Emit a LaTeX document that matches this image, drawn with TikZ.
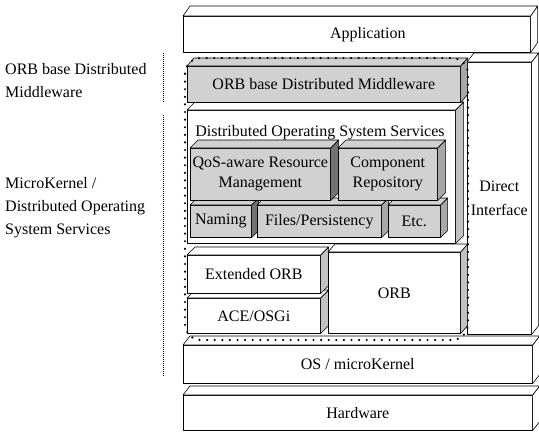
\documentclass[tikz,border=0pt]{standalone}
\usepackage{fontspec}
\setmainfont{Liberation Serif}
\usetikzlibrary{calc}

\definecolor{boxgray}{gray}{0.82}
\definecolor{sidegray}{gray}{0.66}
\definecolor{darkside}{gray}{0.45}
\definecolor{paleside}{gray}{0.76}

\newcommand\lab{\fontsize{16}{20}\selectfont}

% right face and top face of a box whose front face is node #1, depth (#2,#3)
\newcommand\boxsides[5]{%
  \filldraw[face, fill=#4] (#1.north east) -- ++(#2,#3)
     -- ($(#1.south east)+(#2,#3)$) -- (#1.south east) -- cycle;
  \filldraw[face, fill=#5] (#1.north west) -- ++(#2,#3)
     -- ($(#1.north east)+(#2,#3)$) -- (#1.north east) -- cycle;
}

\tikzset{
  face/.style={draw=black, line width=0.6pt, line join=round},
  front/.style={face, rectangle, inner sep=0pt, anchor=north west,
                align=center, font=\lab},
  whitebox/.style={front, fill=white},
  graybox/.style={front, fill=boxgray},
  groupline/.style={draw=black, line width=2.4pt, line cap=round,
                    dash pattern=on 0pt off 7.6pt, rounded corners=16pt},
  sepline/.style={draw=black, line width=0.8pt, dash pattern=on 0.8pt off 1.2pt},
  sidelabel/.style={anchor=west, align=left, inner sep=0pt,
                    font=\fontsize{16}{23}\selectfont}
}

\begin{document}
\begin{tikzpicture}[x=1pt, y=-1pt]
\useasboundingbox (0,0) rectangle (539,432);

% ---- base slabs ----
\node[whitebox, minimum width=349pt, minimum height=35pt] (hw) at (183,395) {Hardware};
\boxsides{hw}{7}{-9}{white}{white}
\node[whitebox, minimum width=349pt, minimum height=38pt] (os) at (183,345) {OS / microKernel};
\boxsides{os}{7}{-9}{white}{white}

% ---- direct interface column ----
\node[whitebox, minimum width=64pt, minimum height=272pt,
      font=\fontsize{16}{24}\selectfont] (direct) at (467,62) {Direct\\Interface};
\boxsides{direct}{7}{-9}{white}{white}

% ---- lower middleware layers ----
\node[whitebox, minimum width=133pt, minimum height=35pt] (ace) at (187,298) {ACE/OSGi};
\boxsides{ace}{8}{-8}{paleside}{white}
\node[whitebox, minimum width=133pt, minimum height=38pt] (eorb) at (187,255) {Extended ORB};
\boxsides{eorb}{8}{-8}{paleside}{white}
\node[whitebox, minimum width=132pt, minimum height=81pt] (orb) at (328,252) {ORB};
\boxsides{orb}{7}{-8}{paleside}{white}

% ---- distributed operating system services ----
\node[whitebox, minimum width=268pt, minimum height=133pt] (dos) at (187,110) {};
\boxsides{dos}{8}{-8}{paleside}{white}
\node[font=\lab, inner sep=0pt] (dostitle) at (320,133) {Distributed Operating System Services};

\node[graybox, minimum width=61pt, minimum height=32pt] (naming) at (190,205) {Naming};
\boxsides{naming}{7}{-7}{darkside}{boxgray}
\node[graybox, minimum width=124pt, minimum height=32pt] (files) at (257,205) {Files/Persistency};
\boxsides{files}{7}{-7}{sidegray}{boxgray}
\node[graybox, minimum width=52pt, minimum height=32pt] (etc) at (388,205) {Etc.};
\boxsides{etc}{7}{-7}{sidegray}{boxgray}

\node[graybox, minimum width=140pt, minimum height=52pt] (qos) at (190,148)
     {QoS-aware Resource\\Management};
\boxsides{qos}{8}{-8}{darkside}{boxgray}
\node[graybox, minimum width=99pt, minimum height=52pt] (comp) at (338,148)
     {Component\\Repository};
\boxsides{comp}{8}{-8}{sidegray}{boxgray}

% ---- ORB based middleware ----
\node[graybox, minimum width=273pt, minimum height=36pt] (mw) at (187,66)
     {ORB base Distributed Middleware};
\boxsides{mw}{7}{-8}{sidegray}{boxgray}

% ---- application ----
\node[whitebox, minimum width=347pt, minimum height=36pt] (app) at (183,16)
     {\hspace*{22pt}Application};
\boxsides{app}{7}{-10}{white}{white}

% ---- grouping of the distributed middleware ----
\draw[groupline] (185,58) rectangle (468,340);

% ---- layer names on the left ----
\node[sidelabel] (lblmw) at (5,81) {ORB base Distributed\\Middleware};
\node[sidelabel] (lblmk) at (5,208) {MicroKernel /\\Distributed Operating\\System Services};
\coordinate (s1a) at (163,53);
\coordinate (s1b) at (163,102);
\coordinate (s2a) at (163,115);
\coordinate (s2b) at (163,376);
\draw[sepline] (s1a) -- (s1b);
\draw[sepline] (s2a) -- (s2b);
\end{tikzpicture}
\end{document}
